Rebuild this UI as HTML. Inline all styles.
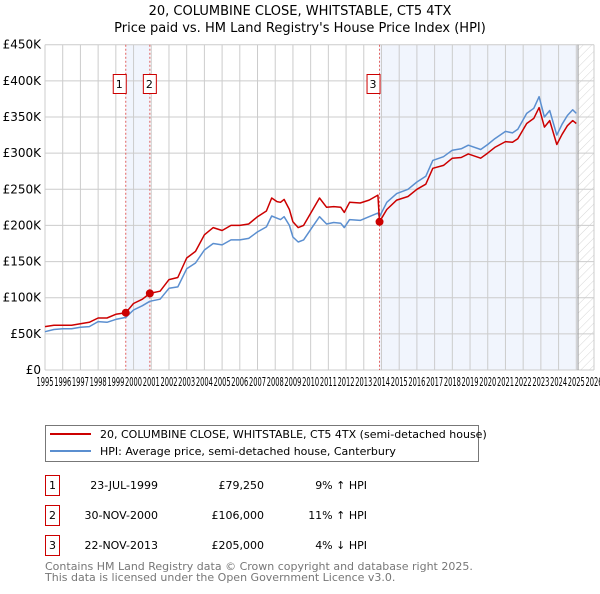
<!DOCTYPE html>
<html><head><meta charset="utf-8">
<style>
body{margin:0;background:#fff;font-family:"DejaVu Sans","Liberation Sans",sans-serif;}
svg text{font-family:"DejaVu Sans","Liberation Sans",sans-serif;}
</style></head>
<body>
<svg id="chart" width="600" height="590" viewBox="0 0 600 590" xmlns="http://www.w3.org/2000/svg">
<defs>
<pattern id="hatch" patternUnits="userSpaceOnUse" width="6" height="6" patternTransform="rotate(45)">
<line x1="0" y1="0" x2="0" y2="6" stroke="#ccc" stroke-width="0.8"/>
</pattern>
</defs>
<text x="300" y="15" font-size="13" text-anchor="middle">20, COLUMBINE CLOSE, WHITSTABLE, CT5 4TX</text>
<text x="300" y="32" font-size="13" text-anchor="middle">Price paid vs. HM Land Registry's House Price Index (HPI)</text>
<g id="plot"></g>
<g>
<rect x="45.5" y="425.5" width="433" height="36" fill="#fff" stroke="#777"/>
<line x1="50" y1="434" x2="91" y2="434" stroke="#cc0000" stroke-width="2"/>
<text x="100" y="438" font-size="11">20, COLUMBINE CLOSE, WHITSTABLE, CT5 4TX (semi-detached house)</text>
<line x1="50" y1="451" x2="91" y2="451" stroke="#5b8fd0" stroke-width="2"/>
<text x="100" y="455" font-size="11">HPI: Average price, semi-detached house, Canterbury</text>
</g>
<g font-size="11">
<rect x="45.5" y="475.5" width="14" height="20" fill="none" stroke="#cc0000"/>
<text x="52.5" y="489" text-anchor="middle">1</text>
<text x="158" y="489" text-anchor="end">23-JUL-1999</text>
<text x="264" y="489" text-anchor="end">£79,250</text>
<text x="367" y="489" text-anchor="end">9% ↑ HPI</text>
<rect x="45.5" y="505.5" width="14" height="20" fill="none" stroke="#cc0000"/>
<text x="52.5" y="519" text-anchor="middle">2</text>
<text x="158" y="519" text-anchor="end">30-NOV-2000</text>
<text x="264" y="519" text-anchor="end">£106,000</text>
<text x="367" y="519" text-anchor="end">11% ↑ HPI</text>
<rect x="45.5" y="535.5" width="14" height="20" fill="none" stroke="#cc0000"/>
<text x="52.5" y="549" text-anchor="middle">3</text>
<text x="158" y="549" text-anchor="end">22-NOV-2013</text>
<text x="264" y="549" text-anchor="end">£205,000</text>
<text x="367" y="549" text-anchor="end">4% ↓ HPI</text>
</g>
<text x="45" y="570" font-size="11" fill="#777">Contains HM Land Registry data © Crown copyright and database right 2025.</text>
<text x="45" y="581" font-size="11" fill="#777">This data is licensed under the Open Government Licence v3.0.</text>
</svg>
<script>
const hpiYears=[1995,1995.5,1996,1996.5,1997,1997.5,1998,1998.5,1999,1999.56,2000,2000.5,2000.92,2001.5,2002,2002.5,2003,2003.5,2004,2004.5,2005,2005.5,2006,2006.5,2007,2007.5,2007.8,2008.1,2008.3,2008.5,2008.8,2009,2009.3,2009.6,2010.1,2010.5,2010.9,2011.3,2011.7,2011.9,2012.2,2012.8,2013.3,2013.8,2013.89,2014.3,2014.86,2015.5,2016,2016.5,2016.9,2017.5,2018,2018.5,2018.9,2019.6,2020,2020.4,2021,2021.4,2021.7,2022.2,2022.6,2022.9,2023.2,2023.5,2023.9,2024.2,2024.5,2024.8,2025];
const hpiValues=[53,56,57,57,59,60,67,66,70,72.7,83,89,95,98,113,115,140,148,166,175,173,180,180,182,191,198,213,210,208,212,200,184,177,180,198,212,202,204,203,197,208,207,212,217,212,232,244,250,260,268,290,295,304,306,311,305,312,320,330,328,333,355,362,378,350,359,325,340,352,360,355];
const redYears=[1995,1995.5,1996,1996.5,1997,1997.5,1998,1998.5,1999,1999.56,2000,2000.5,2000.92,2001.5,2002,2002.5,2003,2003.5,2004,2004.5,2005,2005.5,2006,2006.5,2007,2007.5,2007.8,2008.1,2008.3,2008.5,2008.8,2009,2009.3,2009.6,2010.1,2010.5,2010.9,2011.3,2011.7,2011.9,2012.2,2012.8,2013.3,2013.8,2013.89,2014.3,2014.86,2015.5,2016,2016.5,2016.9,2017.5,2018,2018.5,2018.9,2019.6,2020,2020.4,2021,2021.4,2021.7,2022.2,2022.6,2022.9,2023.2,2023.5,2023.9,2024.2,2024.5,2024.8,2025];
const redValues=[60,62,62,62,64,66,72,72,77,79.25,92,98,106,109,125,128,155,164,187,197,193,200,200,202,212,220,238,233,232,236,222,205,197,200,221,238,225,226,225,218,232,231,235,242,205,222,235,240,250,257,279,283,293,294,299,293,300,308,316,315,320,341,348,363,336,345,312,326,338,345,341];
const saleYears=[1999.56,2000.92,2013.89];
const saleValues=[79.25,106,205];
const saleLabels=["1","2","3"];
const yTicks=[0,50,100,150,200,250,300,350,400,450];
const yTickLabels=["£0","£50K","£100K","£150K","£200K","£250K","£300K","£350K","£400K","£450K"];
const xTicks=[1995,1996,1997,1998,1999,2000,2001,2002,2003,2004,2005,2006,2007,2008,2009,2010,2011,2012,2013,2014,2015,2016,2017,2018,2019,2020,2021,2022,2023,2024,2025,2026];

const X0=45,X1=594,Y0=370,Y1=44.7;
const xs=y=>X0+(y-1995)/(2026-1995)*(X1-X0);
const ys=v=>Y0-v/450*(Y0-Y1);
const NS="http://www.w3.org/2000/svg";
const g=document.getElementById('plot');
function mk(t,a){const e=document.createElementNS(NS,t);for(const k in a)e.setAttribute(k,a[k]);g.appendChild(e);return e;}
let e;
e=mk('rect',{x:X0,y:Y1,width:X1-X0,height:Y0-Y1,fill:'#fff'});


e=mk('rect',{x:xs(saleYears[0]),y:Y1,width:xs(saleYears[1])-xs(saleYears[0]),height:Y0-Y1,fill:'#eef3fc',opacity:0.8});


e=mk('rect',{x:xs(saleYears[2]),y:Y1,width:xs(2025.1)-xs(saleYears[2]),height:Y0-Y1,fill:'#eef3fc',opacity:0.8});


e=mk('rect',{x:xs(2025.1),y:Y1,width:X1-xs(2025.1),height:Y0-Y1,fill:'url(#hatch)'});


xTicks.forEach((t,i)=>{
 e=mk('line',{x1:xs(t),x2:xs(t),y1:Y1,y2:Y0,stroke:'#ccc','stroke-width':1});
 
 
 e=mk('text',{x:xs(t),y:Y0+16,'font-size':12,'text-anchor':'middle',textLength:17,lengthAdjust:'spacingAndGlyphs'});e.textContent=t;
 
 
});
yTicks.forEach((t,i)=>{
 e=mk('line',{x1:X0,x2:X1,y1:ys(t),y2:ys(t),stroke:'#ccc','stroke-width':1});
 
 
 e=mk('text',{x:X0-4,y:ys(t)+4,'font-size':12,'text-anchor':'end'});e.textContent=yTickLabels[i];
 
 
});
e=mk('line',{x1:xs(2025.1),x2:xs(2025.1),y1:Y1,y2:Y0,stroke:'#999','stroke-width':1});


saleYears.forEach((s,i)=>{
 e=mk('line',{x1:xs(s),x2:xs(s),y1:Y1,y2:Y0,stroke:'#e06060','stroke-width':1,'stroke-dasharray':'2,2'});
 
 
 e=mk('rect',{x:xs(s)+(i==1?-7:-13)+0.5,y:74.5,width:13,height:19,fill:'#fff',stroke:'#cc0000'});
 
 
 e=mk('text',{x:xs(s)+(i==1?-0.5:-6.5),y:88,'font-size':11,'text-anchor':'middle'});e.textContent=saleLabels[i];
 
 
});
function path(xa,va){return xa.map((y,i)=>(i?'L':'M')+xs(y).toFixed(1)+','+ys(va[i]).toFixed(1)).join('');}
e=mk('path',{d:path(hpiYears,hpiValues),fill:'none',stroke:'#5b8fd0','stroke-width':1.5,'stroke-linejoin':'round'});


e=mk('path',{d:path(redYears,redValues),fill:'none',stroke:'#cc0000','stroke-width':1.5,'stroke-linejoin':'round'});


saleYears.forEach((s,i)=>{
 e=mk('circle',{cx:xs(s),cy:ys(saleValues[i]),r:4,fill:'#cc0000'});
 
 
});
</script>
</body></html>
